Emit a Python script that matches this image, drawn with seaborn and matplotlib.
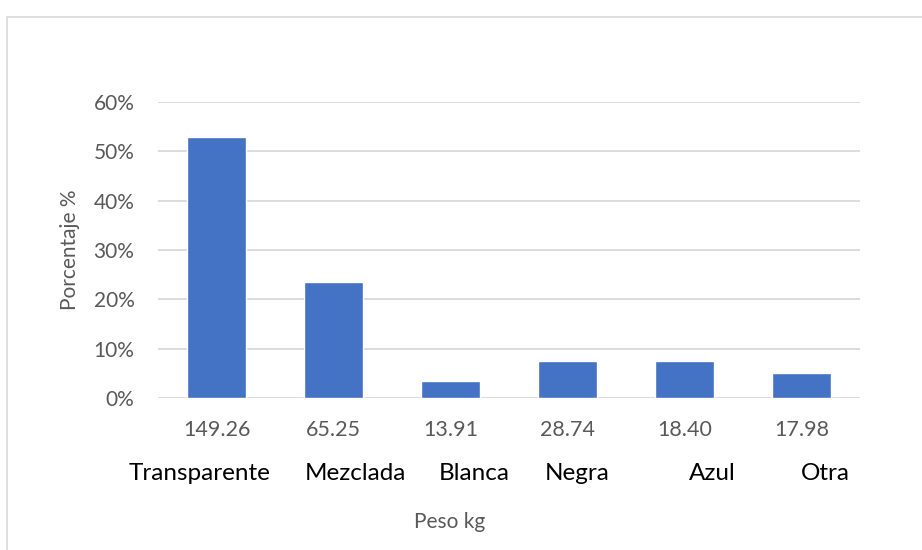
import numpy as np
import pandas as pd
import seaborn as sns
from matplotlib import pyplot as plt
from matplotlib import patches, patheffects
from matplotlib.ticker import PercentFormatter

# data
categories = ["Transparente", "Mezclada", "Blanca", "Negra", "Azul", "Otra"]
weights_kg = ["149.26", "65.25", "13.91", "28.74", "18.40", "17.98"]
percent = [0.529, 0.236, 0.035, 0.075, 0.074, 0.050]

# horizontal nudge of the category names (in category units), as in the reference
name_shift = [-0.145, 0.19, 0.20, 0.085, 0.24, 0.205]

GRAY = "#595959"
GRID = "#d9d9d9"
BLUE = "#4472C4"

sns.set_style("white")
plt.rcParams["font.family"] = ["Lato", "DejaVu Sans"]

df = pd.DataFrame({"cat": categories, "pct": percent})

fig = plt.figure(figsize=(9.22, 5.5), dpi=100)
ax = fig.add_axes([158 / 922, 1 - 398 / 550, 702 / 922, 296 / 550])

sns.barplot(df, x="cat", y="pct", color=BLUE, saturation=1, width=0.5, ax=ax)
for bar in ax.patches:
    bar.set_path_effects([
        patheffects.SimplePatchShadow(offset=(1, -1.5), alpha=0.25),
        patheffects.Normal(),
    ])

ax.set_ylim(0, 0.6)
ax.set_xlim(-0.5, len(categories) - 0.5)
ax.set_yticks(np.arange(0, 0.61, 0.1))
ax.yaxis.set_major_formatter(PercentFormatter(xmax=1, decimals=0))
ax.yaxis.grid(True, color=GRID, linewidth=1.3)
ax.set_axisbelow(True)
for s in ax.spines.values():
    s.set_visible(False)

# two rows of x labels: weight (major) and name (minor)
ax.xaxis.remove_overlapping_locs = False
ax.set_xticks(range(len(categories)), weights_kg)
ax.set_xticks([i + d for i, d in enumerate(name_shift)], categories, minor=True)
ax.tick_params(axis="x", which="major", length=0, pad=16, labelsize=15.5, labelcolor=GRAY)
ax.tick_params(axis="x", which="minor", length=0, pad=47, labelsize=17.5, labelcolor="black")
ax.tick_params(axis="y", length=0, pad=17, labelsize=15, labelcolor=GRAY)

ax.set_xlabel("Peso kg", fontsize=15, color=GRAY, va="center")
ax.xaxis.set_label_coords(0.415, -0.419)
ax.set_ylabel("Porcentaje %", fontsize=15, color=GRAY, va="center")
ax.yaxis.set_label_coords(-0.125, 0.5)

# chart area border
fig.patches.append(patches.Rectangle(
    (7 / 922, -0.1), 1.2, 0.1 + (1 - 17 / 550), transform=fig.transFigure,
    fill=False, edgecolor=GRID, linewidth=1.2))

fig.savefig("out.png", dpi=100)
